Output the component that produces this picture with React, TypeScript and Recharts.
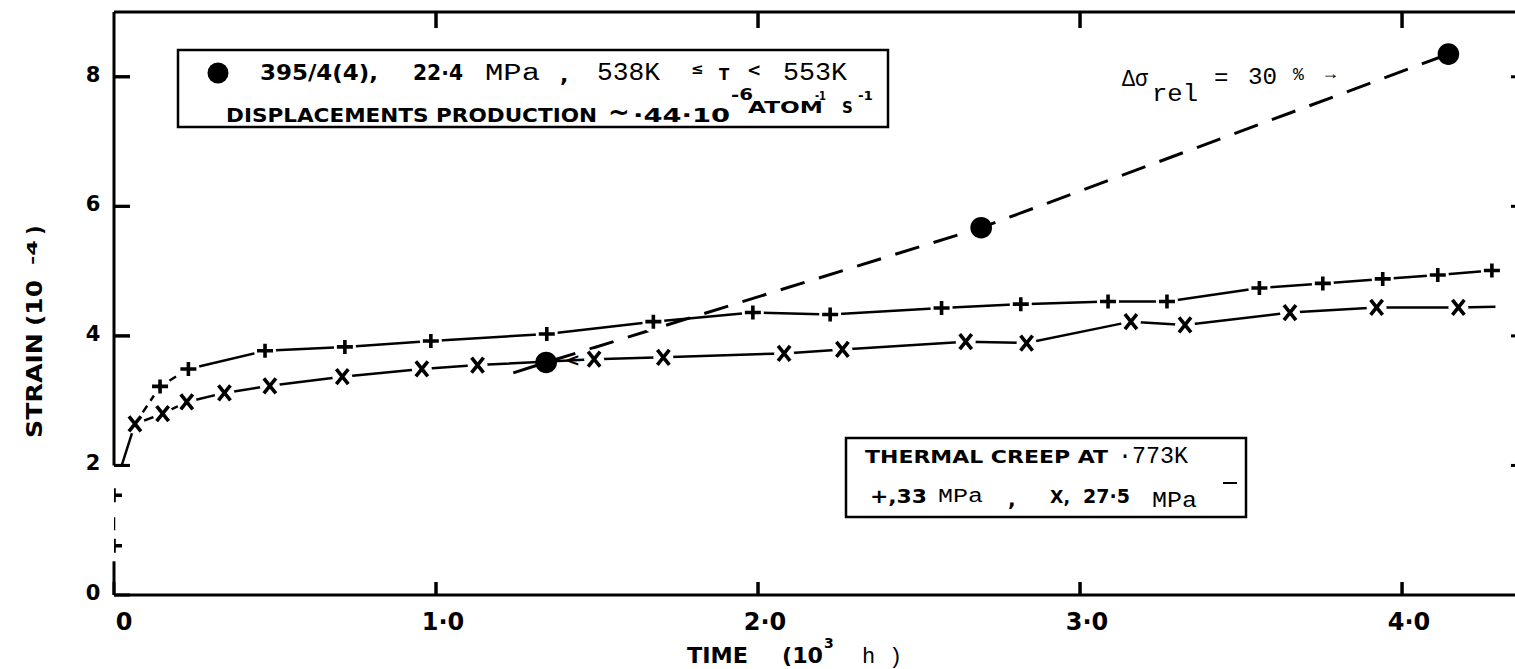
import React from 'react';
import { ComposedChart, Line, XAxis, YAxis, ReferenceLine } from 'recharts';

// ---- data (time in 10^3 h, strain in 10^-4) ----
const timeTicks = [0, 1, 2, 3, 4];
const topTicks = [1, 2, 3, 4];
const strainTicks = [0, 2, 4, 6, 8];
const leftTickMarks = [2, 4, 6, 8];
const rightTicks = [2, 4, 6, 8];

// thermal creep, + : 33 MPa
const plusTime = [0.143, 0.231, 0.469, 0.717, 0.984, 1.344, 1.675, 1.984, 2.224, 2.57, 2.816, 3.087, 3.27, 3.557, 3.754, 3.94, 4.111, 4.279];
const plusStrain = [3.22, 3.49, 3.77, 3.83, 3.92, 4.03, 4.22, 4.36, 4.33, 4.43, 4.49, 4.53, 4.53, 4.74, 4.81, 4.88, 4.94, 5.01];

// thermal creep, x : 27.5 MPa
const crossTime = [0.065, 0.151, 0.226, 0.343, 0.484, 0.709, 0.956, 1.129, 1.491, 1.706, 2.081, 2.262, 2.645, 2.834, 3.158, 3.326, 3.652, 3.921, 4.175];
const crossStrain = [2.64, 2.8, 2.98, 3.12, 3.23, 3.37, 3.49, 3.55, 3.64, 3.67, 3.73, 3.79, 3.91, 3.89, 4.22, 4.17, 4.36, 4.44, 4.44];
const crossLineStart = { t: 0.024, s: 2.0 };
const crossLineEnd = { t: 4.29, s: 4.45 };

// in-pile 395/4(4), 22.4 MPa
const irrTime = [1.342, 2.693, 4.144];
const irrStrain = [3.59, 5.67, 8.35];
const irrLineStart = { t: 1.24, s: 3.43 };

// points on the broken part of the strain axis
const breakTime = [0, 0];
const breakStrain = [1.54, 0.76];

const X_MAX = 4.357;
const Y_MAX = 9;
const AXIS_GAP = [0.52, 2.0];

// plot frame (px) shared by the chart margins and the tick overlay
const PLOT_L = 114;
const PLOT_R = 1517;
const PLOT_T = 12;
const PLOT_B = 595;
const sx = (v: number) => PLOT_L + (v / X_MAX) * (PLOT_R - PLOT_L);
const sy = (v: number) => PLOT_B - (v / Y_MAX) * (PLOT_B - PLOT_T);

const BOLD = '"DejaVu Sans", Verdana, sans-serif';
const MONO = '"Liberation Mono", "DejaVu Sans Mono", monospace';

const toPts = (ts: number[], ss: number[], m = true) => ts.map((t, i) => ({ t, s: ss[i], m }));

const plusPts = toPts(plusTime, plusStrain);
const plusCurve = [{ t: crossTime[0], s: crossStrain[0], m: false }, ...plusPts];
const plusEarly = plusCurve.slice(0, 3);
const plusLate = plusCurve.slice(2);
const crossCurve = [{ ...crossLineStart, m: false }, ...toPts(crossTime, crossStrain), { ...crossLineEnd, m: false }];
const irrCurve = [{ ...irrLineStart, m: false }, ...toPts(irrTime, irrStrain)];
const breakPts = toPts(breakTime, breakStrain);

const PlusDot = (props: any) => {
  const { cx, cy, payload, index } = props;
  if (!payload || !payload.m || cx == null) return <g key={`p${index}`} />;
  return (
    <g key={`p${index}`}>
      <circle cx={cx} cy={cy} r={11} fill="#fff" />
      <path d={`M${cx - 8},${cy} L${cx + 8},${cy} M${cx},${cy - 7} L${cx},${cy + 7}`} stroke="#000" strokeWidth={3.6} />
    </g>
  );
};

const CrossDot = (props: any) => {
  const { cx, cy, payload, index } = props;
  if (!payload || !payload.m || cx == null) return <g key={`x${index}`} />;
  return (
    <g key={`x${index}`}>
      <circle cx={cx} cy={cy} r={10} fill="#fff" />
      <path d={`M${cx - 6},${cy - 7.5} L${cx + 6},${cy + 7.5} M${cx + 6},${cy - 7.5} L${cx - 6},${cy + 7.5}`} stroke="#000" strokeWidth={3.6} />
    </g>
  );
};

const BallDot = (props: any) => {
  const { cx, cy, payload, index } = props;
  if (!payload || !payload.m || cx == null) return <g key={`b${index}`} />;
  return <circle key={`b${index}`} cx={cx} cy={cy} r={10.8} fill="#000" />;
};

const TICK_W = 3;

const XTick = (props: any) => {
  const { x, y, payload } = props;
  const v = payload.value as number;
  const label = v === 0 ? '0' : v.toFixed(1).replace('.', '\u00b7');
  return (
    <g>
      <line x1={x} y1={y} x2={x} y2={y - 13} stroke="#000" strokeWidth={TICK_W} />
      <text x={x + (v === 0 ? 10 : 7)} y={y + 35} textAnchor="middle" fontFamily={BOLD} fontWeight="bold" fontSize={24} fill="#000">
        {label}
      </text>
    </g>
  );
};

const TopTick = (props: any) => {
  const { x, y } = props;
  return <line x1={x} y1={y} x2={x} y2={y + 16} stroke="#000" strokeWidth={TICK_W} />;
};

const YTick = (props: any) => {
  const { x, y, payload } = props;
  return (
    <g>
      <line x1={x} y1={y} x2={x + 16} y2={y} stroke="#000" strokeWidth={TICK_W} />
      <text x={x - 21} y={y + 5} textAnchor="middle" fontFamily={BOLD} fontWeight="bold" fontSize={21} fill="#000">
        {String(payload.value)}
      </text>
    </g>
  );
};

const RightTick = (props: any) => {
  const { x, y } = props;
  return <line x1={x} y1={y} x2={x - 6} y2={y} stroke="#000" strokeWidth={TICK_W} />;
};

type TP = { x: number; y: number; s: number; f?: 'b' | 'm'; len?: number; children: React.ReactNode };
const T = ({ x, y, s, f = 'b', len, children }: TP) => (
  <text
    x={x}
    y={y}
    fontSize={s}
    fontFamily={f === 'b' ? BOLD : MONO}
    fontWeight={f === 'b' ? 'bold' : 'normal'}
    fill="#000"
    {...(len ? { textLength: len, lengthAdjust: 'spacingAndGlyphs' } : {})}
  >
    {children}
  </text>
);

const Overlay = () => (
  <svg width={1515} height={669} style={{ position: 'absolute', left: 0, top: 0, pointerEvents: 'none' }}>
    {/* inward tick marks (same scale as the chart) */}
    {topTicks.map((v) => (
      <line key={`ob${v}`} x1={sx(v)} y1={PLOT_B} x2={sx(v)} y2={PLOT_B - 13} stroke="#000" strokeWidth={TICK_W} />
    ))}
    {topTicks.map((v) => (
      <line key={`ot${v}`} x1={sx(v)} y1={PLOT_T} x2={sx(v)} y2={PLOT_T + 16} stroke="#000" strokeWidth={TICK_W} />
    ))}
    {leftTickMarks.map((v) => (
      <line key={`ol${v}`} x1={PLOT_L} y1={sy(v)} x2={PLOT_L + 16} y2={sy(v)} stroke="#000" strokeWidth={TICK_W} />
    ))}

    {/* legend box 1 */}
    <rect x={178} y={50} width={710} height={77} fill="none" stroke="#000" strokeWidth={2.5} />
    <circle cx={218} cy={73} r={10.5} fill="#000" />
    <T x={260} y={80} s={22} len={118}>395/4(4),</T>
    <T x={413} y={80} s={21} len={50}>22·4</T>
    <T x={485} y={80} s={23} f="m" len={55}>MPa</T>
    <T x={560} y={82} s={22}>,</T>
    <T x={597} y={80} s={25} f="m" len={63}>538K</T>
    <T x={691} y={74} s={15}>≤</T>
    <T x={719} y={80} s={15}>T</T>
    <T x={747} y={76} s={17}>&lt;</T>
    <T x={783} y={80} s={25} f="m" len={64}>553K</T>
    <T x={226} y={122} s={19} len={371}>DISPLACEMENTS  PRODUCTION</T>
    <T x={608} y={121} s={26}>~</T>
    <T x={633} y={122} s={19} len={97}>·44·10</T>
    <T x={731} y={100} s={15} len={22}>-6</T>
    <T x={748} y={113} s={15} len={75}>ATOM</T>
    <T x={815} y={100} s={12} len={11}>-1</T>
    <T x={842} y={113} s={15}>S</T>
    <T x={858} y={100} s={13} len={15}>-1</T>

    {/* legend box 2 */}
    <rect x={846} y={438} width={400} height={79} fill="none" stroke="#000" strokeWidth={2.5} />
    <T x={865} y={463} s={18} len={243}>THERMAL CREEP AT</T>
    <T x={1118} y={463} s={24} f="m" len={70}>·773K</T>
    <T x={870} y={503} s={20} len={57}>+,33</T>
    <T x={938} y={502} s={20} f="m" len={45}>MPa</T>
    <T x={1008} y={506} s={20}>,</T>
    <T x={1050} y={503} s={17} len={20}>X,</T>
    <T x={1083} y={503} s={19} len={47}>27·5</T>
    <T x={1152} y={507} s={22} f="m" len={45}>MPa</T>
    <line x1={1223} y1={483} x2={1237} y2={483} stroke="#000" strokeWidth={2} />

    {/* relative stress annotation */}
    <T x={1122} y={86} s={24} f="m" len={26}>Δσ</T>
    <T x={1152} y={101} s={24} f="m" len={46}>rel</T>
    <T x={1214} y={85} s={24} f="m">=</T>
    <T x={1248} y={84} s={24} f="m" len={29}>30</T>
    <T x={1293} y={80} s={18} f="m">%</T>
    <T x={1325} y={79} s={18} f="m">→</T>

    {/* arrow mark at first in-pile point */}
    <T x={565} y={366} s={18}>&lt;</T>

    {/* axis titles */}
    <g transform="translate(42,438) rotate(-90)">
      <T x={0} y={0} s={21} len={105}>STRAIN</T>
      <T x={112} y={0} s={21} len={46}>(10</T>
      <T x={173} y={-5} s={14} len={25}>-4</T>
      <T x={203} y={0} s={21}>)</T>
    </g>
    <T x={687} y={663} s={22} len={61}>TIME</T>
    <T x={782} y={663} s={22} len={41}>(10</T>
    <T x={824} y={648} s={14}>3</T>
    <T x={862} y={663} s={22} f="m">h</T>
    <T x={889} y={663} s={22} f="m">)</T>
  </svg>
);

const axisStroke = { stroke: '#000', strokeWidth: 3 };

export default function App() {
  return (
    <div style={{ position: 'absolute', left: 0, top: 0, width: 1515, height: 669, overflow: 'hidden', background: '#fff' }}>
      <ComposedChart width={1520} height={669} margin={{ top: PLOT_T - 1, right: 1520 - PLOT_R - 1, bottom: 669 - PLOT_B - 1, left: PLOT_L - 1 }}>
        <XAxis
          type="number"
          dataKey="t"
          domain={[0, X_MAX]}
          allowDataOverflow
          ticks={timeTicks}
          tick={XTick}
          tickSize={0}
          tickMargin={0}
          tickLine={false}
          height={1}
          axisLine={axisStroke}
          interval={0}
        />
        <XAxis
          xAxisId="top"
          orientation="top"
          type="number"
          dataKey="t"
          domain={[0, X_MAX]}
          allowDataOverflow
          ticks={topTicks}
          tick={TopTick}
          tickSize={0}
          tickMargin={0}
          tickLine={false}
          height={1}
          axisLine={axisStroke}
          interval={0}
        />
        <YAxis
          type="number"
          dataKey="s"
          domain={[0, Y_MAX]}
          allowDataOverflow
          ticks={strainTicks}
          tick={YTick}
          tickSize={0}
          tickMargin={0}
          tickLine={false}
          width={1}
          axisLine={false}
          interval={0}
        />
        <YAxis
          yAxisId="right"
          orientation="right"
          type="number"
          domain={[0, Y_MAX]}
          allowDataOverflow
          ticks={rightTicks}
          tick={RightTick}
          tickSize={0}
          tickMargin={0}
          tickLine={false}
          width={1}
          axisLine={axisStroke}
          interval={0}
        />
        {/* broken strain axis */}
        <ReferenceLine segment={[{ x: 0, y: AXIS_GAP[1] }, { x: 0, y: Y_MAX }]} stroke="#000" strokeWidth={3} ifOverflow="visible" />
        <ReferenceLine segment={[{ x: 0, y: 0 }, { x: 0, y: AXIS_GAP[0] }]} stroke="#000" strokeWidth={3} ifOverflow="visible" />

        <Line data={crossCurve} dataKey="s" type="linear" stroke="#000" strokeWidth={2.5} dot={CrossDot} activeDot={false} isAnimationActive={false} />
        <Line data={plusEarly} dataKey="s" type="linear" stroke="#000" strokeWidth={2.5} strokeDasharray="8 6" dot={PlusDot} activeDot={false} isAnimationActive={false} />
        <Line data={plusLate} dataKey="s" type="linear" stroke="#000" strokeWidth={2.5} dot={PlusDot} activeDot={false} isAnimationActive={false} />
        <Line data={irrCurve} dataKey="s" type="linear" stroke="#000" strokeWidth={3} strokeDasharray="25 15" dot={BallDot} activeDot={false} isAnimationActive={false} />
        <Line data={breakPts} dataKey="s" type="linear" stroke="#000" strokeWidth={2.5} strokeDasharray="0 22 13 100" dot={PlusDot} activeDot={false} isAnimationActive={false} />
      </ComposedChart>
      <Overlay />
    </div>
  );
}
